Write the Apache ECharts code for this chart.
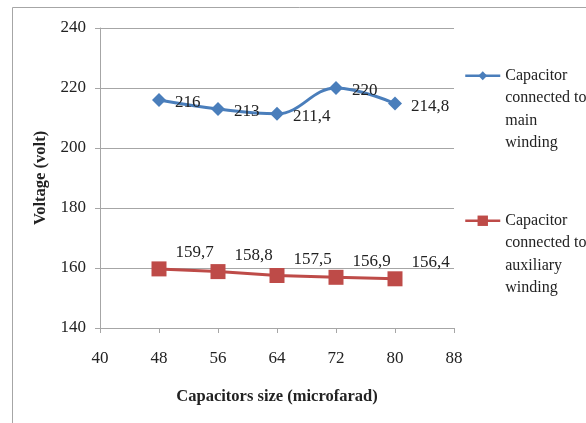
<!doctype html>
<html>
<head>
<meta charset="utf-8">
<title>Voltage vs capacitor size</title>
<script type="text/javascript" src="https://cdn.jsdelivr.net/npm/echarts@6/dist/echarts.min.js"></script>
</head>
<body style="margin:0;padding:0;background:#fff">
<div id="tb" style="width:586px;height:423px;"></div>
<script>
// capacitor sizes (microfarad)
var sizes = [48, 56, 64, 72, 80];
// voltage readings
var mainWinding = [216, 213, 211.4, 220, 214.8];
var auxWinding = [159.7, 158.8, 157.5, 156.9, 156.4];
var seriesNames = ['Capacitor\nconnected to\nmain\nwinding', 'Capacitor\nconnected to\nauxiliary\nwinding'];

var serif = '"Liberation Serif", "Times New Roman", serif';

function pairs(ys) {
    return sizes.map(function (x, i) { return [x, ys[i]]; });
}
function comma(p) {
    return String(p.value[1]).replace('.', ',');
}
// three empty lines first so the icon sits beside the first line of the text
function legendText(name) {
    return '\n\n\n' + name;
}

var chart = echarts.init(document.getElementById('tb'));

var legendStyle = { fontFamily: serif, fontSize: 16, color: '#222', lineHeight: 22.5 };

chart.setOption({
    animation: false,
    graphic: [{
        type: 'rect',
        shape: { x: 12.5, y: 7.5, width: 700, height: 600 },
        style: { fill: 'none', stroke: '#a6a6a6', lineWidth: 1 },
        silent: true
    }],
    grid: { left: 100, right: 132, top: 28, bottom: 95, containLabel: false },
    legend: [{
        data: [seriesNames[0]],
        orient: 'vertical',
        left: 464,
        top: -3,
        padding: 0,
        itemWidth: 35,
        itemHeight: 11,
        formatter: legendText,
        lineStyle: { width: 2.5 },
        textStyle: legendStyle
    }, {
        data: [seriesNames[1]],
        orient: 'vertical',
        left: 464,
        top: 142,
        padding: 0,
        itemWidth: 35,
        itemHeight: 13,
        formatter: legendText,
        lineStyle: { width: 2.5 },
        textStyle: legendStyle
    }],
    xAxis: {
        type: 'value',
        min: 40,
        max: 88,
        interval: 8,
        name: 'Capacitors size (microfarad)',
        nameLocation: 'middle',
        nameGap: 60,
        nameTextStyle: { fontFamily: serif, fontSize: 16.5, fontWeight: 'bold', color: '#222' },
        axisLine: { show: true, onZero: false, lineStyle: { color: '#a6a6a6' } },
        axisTick: { show: true, length: 5, lineStyle: { color: '#a6a6a6' } },
        axisLabel: { margin: 22, fontFamily: serif, fontSize: 17, color: '#222' },
        splitLine: { show: false }
    },
    yAxis: {
        type: 'value',
        min: 140,
        max: 240,
        interval: 20,
        name: 'Voltage (volt)',
        nameLocation: 'middle',
        nameGap: 51,
        nameTextStyle: { fontFamily: serif, fontSize: 16.5, fontWeight: 'bold', color: '#222' },
        axisLine: { show: true, lineStyle: { color: '#a6a6a6' } },
        axisTick: { show: true, length: 5, lineStyle: { color: '#a6a6a6' } },
        axisLabel: { margin: 14, fontFamily: serif, fontSize: 17, color: '#222' },
        splitLine: { show: true, lineStyle: { color: '#a6a6a6', width: 1 } }
    },
    series: [{
        name: seriesNames[0],
        type: 'line',
        smooth: 0.4,
        data: pairs(mainWinding),
        symbol: 'diamond',
        symbolSize: 14,
        lineStyle: { color: '#4a7ebb', width: 3 },
        itemStyle: { color: '#4a7ebb' },
        label: {
            show: true, position: 'right', distance: 9, offset: [0, 3],
            formatter: comma, fontFamily: serif, fontSize: 17, color: '#222'
        }
    }, {
        name: seriesNames[1],
        type: 'line',
        data: pairs(auxWinding),
        symbol: 'rect',
        symbolSize: 15,
        lineStyle: { color: '#be4b48', width: 3 },
        itemStyle: { color: '#be4b48' },
        label: {
            show: true, position: 'right', distance: 9, offset: [0, -16],
            formatter: comma, fontFamily: serif, fontSize: 17, color: '#222'
        }
    }]
});
</script>
</body>
</html>
